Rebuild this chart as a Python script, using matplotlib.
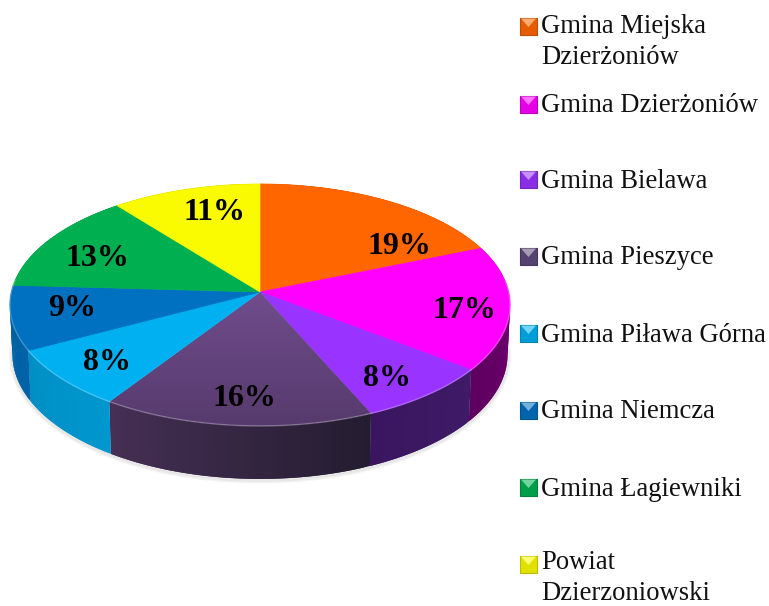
import numpy as np
import matplotlib
matplotlib.use("Agg")
import matplotlib.pyplot as plt
from matplotlib.colors import to_rgb, LinearSegmentedColormap
from matplotlib.patches import Polygon

names = ["Gmina Miejska\nDzierżoniów", "Gmina Dzierżoniów", "Gmina Bielawa", "Gmina Pieszyce",
         "Gmina Piława Górna", "Gmina Niemcza", "Gmina Łagiewniki", "Powiat\nDzierzoniowski"]
values = [18.8, 16.6, 8.0, 15.9, 8.0, 8.6, 13.4, 10.7]

top_colors = ["#FF6600", "#FF00FF", "#9933FF", "#5F4278", "#00B0F0", "#0070C0", "#00B050", "#FAFA00"]
wall_a = ["#8F3A00", "#7A0078", "#3F1A66", "#241C30", "#0097CE", "#0062A8", "#006030", "#808000"]
wall_b = ["#8F3A00", "#5E0060", "#3A1660", "#463055", "#008FC4", "#00609F", "#006030", "#808000"]
label_pos = [(399, 245), (464, 309), (387, 377), (244, 398), (107, 362), (72, 307), (97, 258), (214, 212)]
legend_y = [42, 106, 181, 258, 335, 412, 489, 578]
marker_y = [26, 104, 179, 256, 333, 410, 487, 564]

plt.rcParams["font.family"] = ["Liberation Serif", "DejaVu Serif"]

# perspektywa dysku: os pozioma R, pionowa S, k to skrot do tylu
cx, cy, R, S, k = 260, 292, 248.6, 119.6, 0.107


def project(theta):
    X = np.sin(theta)
    Y = np.cos(theta)
    d = 1 + k * Y
    return cx + R * X / d, cy - S * Y / d


def bottom(theta):
    x, y = project(theta)
    return cx + (x - cx) * 0.99, y + 49 - 4 * np.cos(theta)


fig = plt.figure(figsize=(7.69, 6.06), dpi=100)
ax = fig.add_axes([0, 0, 1, 1])
ax.set_xlim(0, 769)
ax.set_ylim(606, 0)
ax.axis("off")

edges = np.cumsum([0] + values) / sum(values) * 2 * np.pi

# cien pod spodem
t = np.linspace(np.pi * 0.42, np.pi * 1.58, 200)
bx, by = bottom(t)
for w in [5, 3]:
    ax.plot(bx, by + 1, color="#707070", lw=w, alpha=0.08, solid_capstyle="round", zorder=1)

# sciany boczne, paski zachodza na siebie zeby nie bylo szczelin
for i in range(len(values)):
    steps = 40
    th = np.linspace(edges[i], edges[i + 1], steps + 1)
    a, b = np.array(to_rgb(wall_a[i])), np.array(to_rgb(wall_b[i]))
    for j in range(steps):
        part = th[j:j + 3]
        x0, y0 = project(part)
        x1, y1 = bottom(part)
        c = a + (b - a) * j / (steps - 1)
        pts = np.r_[np.c_[x0, y0], np.c_[x1, y1][::-1]]
        ax.add_patch(Polygon(pts, facecolor=c, edgecolor="none", zorder=2))

# gorna powierzchnia
for i in range(len(values)):
    th = np.linspace(edges[i], edges[i + 1], 120)
    x, y = project(th)
    px = np.r_[cx, x]
    py = np.r_[cy, y]
    if i == 3:
        poly = Polygon(np.c_[px, py], facecolor="none", edgecolor="none", zorder=3)
        ax.add_patch(poly)
        cmap = LinearSegmentedColormap.from_list("g", ["#704C8C", "#563A6C"])
        im = ax.imshow(np.linspace(0, 1, 100).reshape(-1, 1), cmap=cmap, aspect="auto",
                       extent=(100, 380, 430, 292), origin="upper", zorder=3)
        im.set_clip_path(poly)
    else:
        ax.add_patch(Polygon(np.c_[px, py], facecolor=top_colors[i], edgecolor=top_colors[i],
                             lw=0.5, zorder=3))
    # jasna krawedz na przedzie
    front = np.cos(th) < 0.1
    if front.any():
        rim = np.array(to_rgb(top_colors[i])) * 0.6 + 0.4
        ax.plot(x[front], y[front], color=rim, lw=1, alpha=0.6, zorder=4)

for i, v in enumerate(values):
    ax.text(label_pos[i][0], label_pos[i][1] + 1, f"{round(v)}%", fontsize=23, fontweight="bold",
            ha="center", va="center", color="black", zorder=5)

# legenda
for i, name in enumerate(names):
    col = np.array(to_rgb(top_colors[i] if i != 3 else "#5F497A"))
    my = marker_y[i]
    x0, x1, y0, y1 = 520, 537, my - 8.5, my + 8.5
    ax.add_patch(Polygon([(x0, y0), (x1, y0), (x1, y1), (x0, y1)], facecolor=col * 0.9,
                         edgecolor=col * 0.75, lw=0.8, zorder=5))
    ax.add_patch(Polygon([(x0 + 1, y0 + 1), (x1 - 1, y0 + 1), ((x0 + x1) / 2, my + 1)],
                         facecolor=col * 0.55 + 0.45, edgecolor="none", zorder=6))
    ax.text(541, legend_y[i], name, fontsize=19.2, ha="left", va="center", linespacing=1.29,
            color="#111111", zorder=6)

plt.savefig("out.png", dpi=100)
